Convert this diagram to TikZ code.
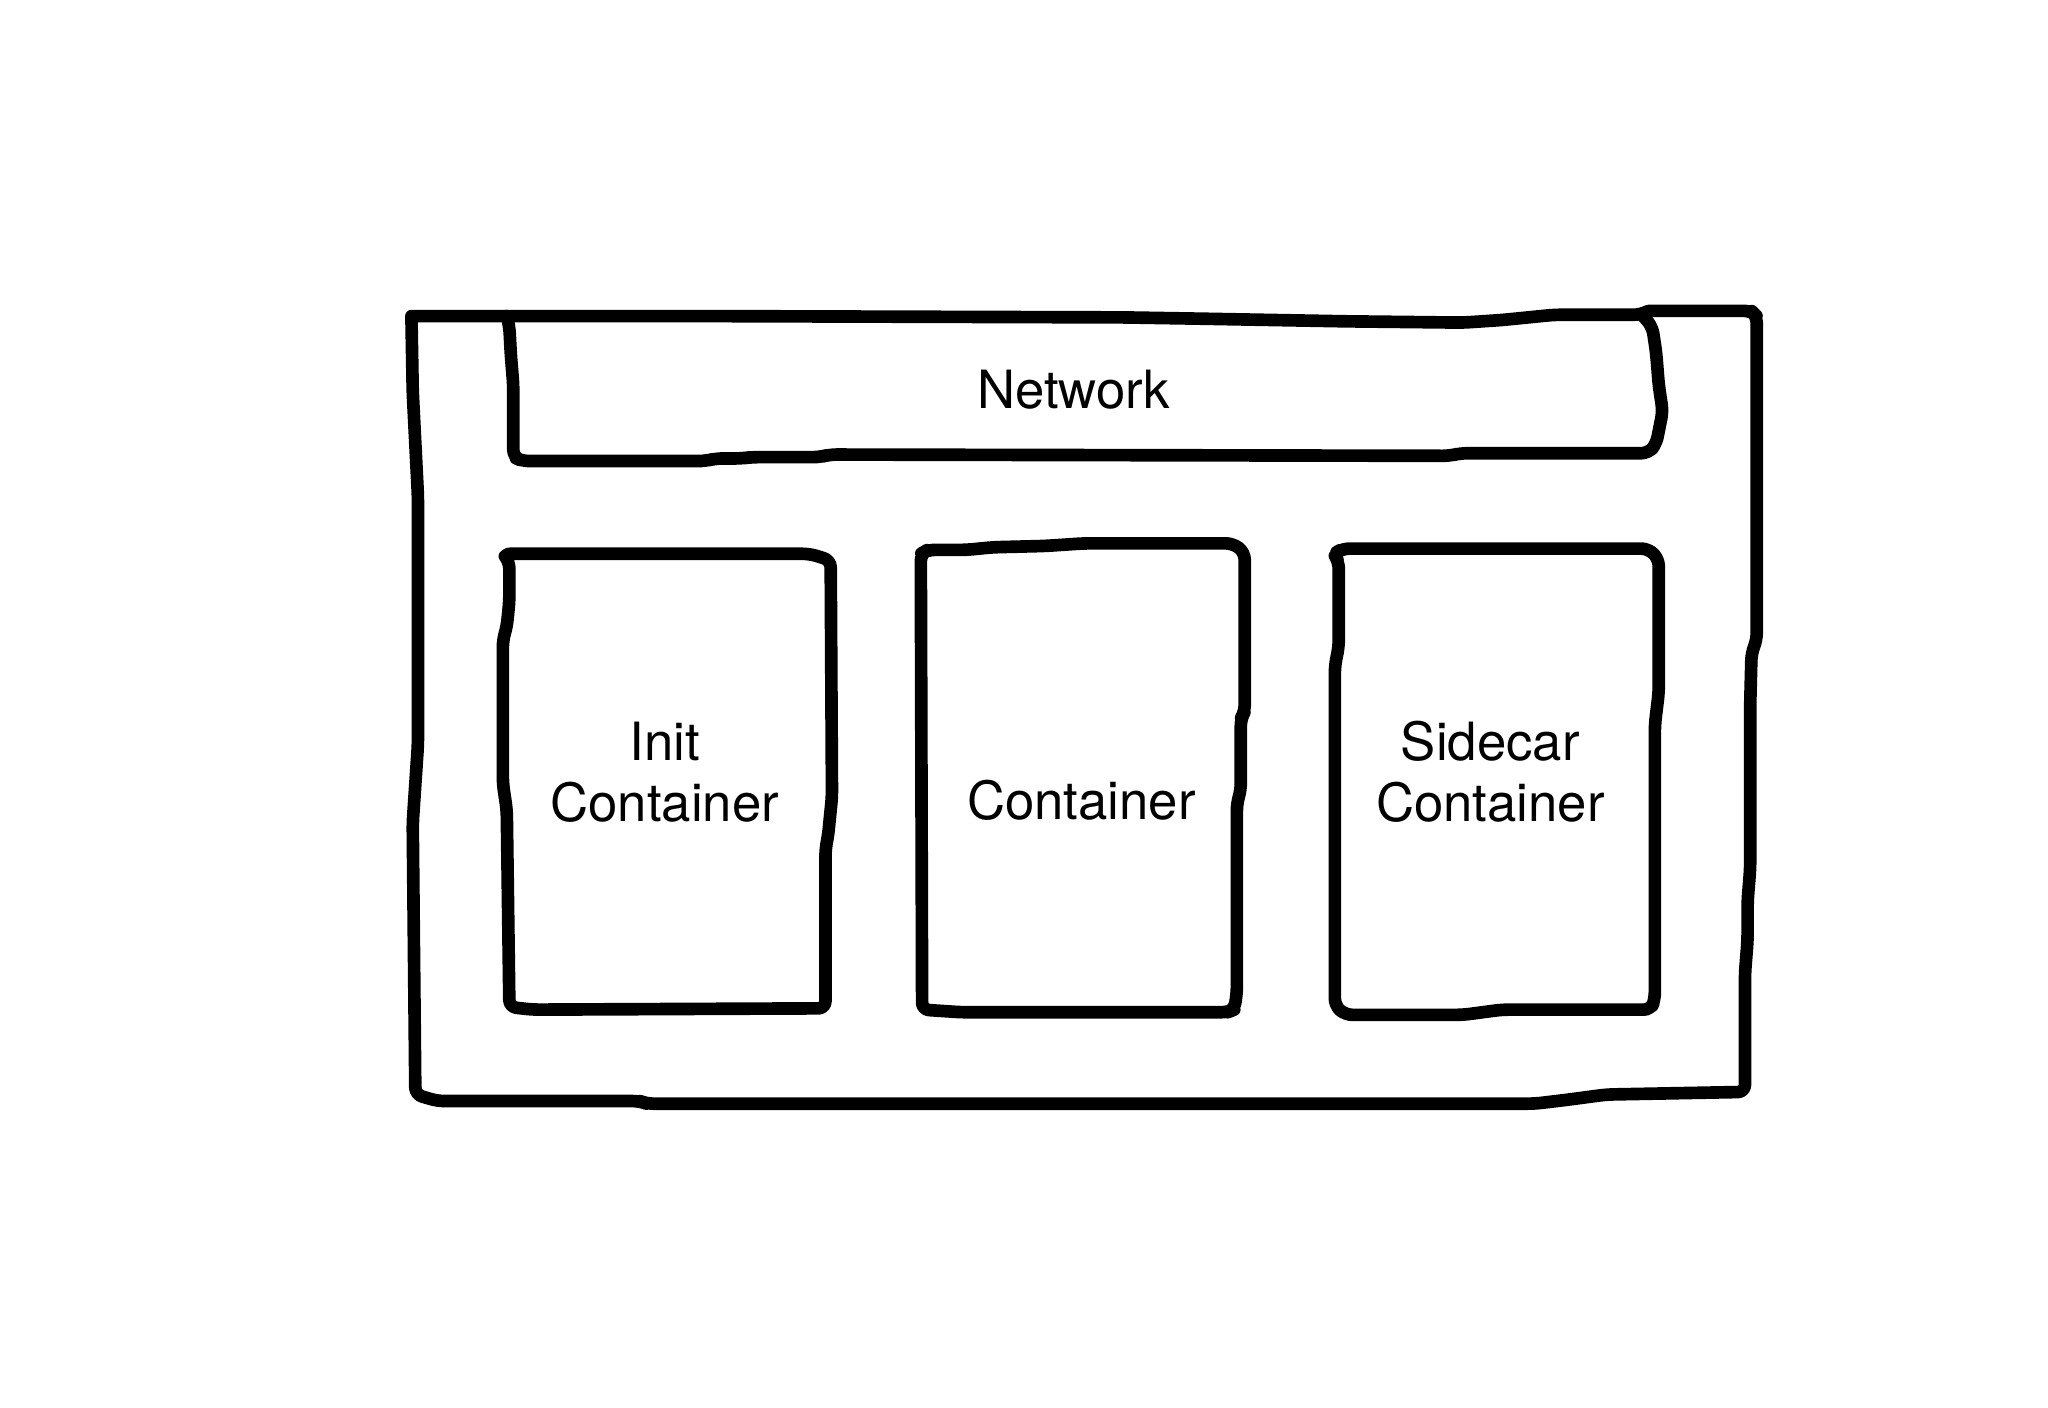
\documentclass[tikz,border=0pt]{standalone}
\usepackage{fontspec}
\setmainfont{TeX Gyre Heros}
\begin{document}
\begin{tikzpicture}[x=0.013061cm,y=-0.013061cm,
  sketch/.style={draw=black,line width=3.6pt,line join=round,line cap=round,rounded corners=2pt},
  lbl/.style={font=\fontsize{15}{17.4}\selectfont,align=center,text=black,inner sep=0pt}]
\useasboundingbox[fill=white] (0,0) rectangle (1568,1078);
% outer pod box
\draw[sketch] (315,242) -- (388,242) -- (540,242) -- (860,243) -- (920,244) -- (1030,246) -- (1120,247) -- (1150,245) -- (1190,241) -- (1256,241)
  .. controls (1262,238) .. (1272,238) -- (1341,238) -- (1345,242) -- (1345,490) -- (1341,500) -- (1340,540) -- (1340,665) -- (1338,690) -- (1338,720) -- (1336,745) -- (1336,836)
  -- (1230,838) -- (1200,842) -- (1175,845) -- (495,845) -- (490,843) -- (335,843) -- (318,838) -- (316,630) -- (318,600) -- (320,570) -- (320,380) -- (318,340) -- (316,300) -- (315,242);
% network box
\draw[sketch] (388,242) -- (390,250) -- (391,270) -- (393,295) -- (393,350) -- (400,353) -- (540,353) -- (548,351) -- (568,351) -- (575,350) -- (628,350) -- (635,348) -- (1110,349) -- (1118,347) -- (1262,347)
  -- (1268,340) -- (1273,315) -- (1270,295) -- (1268,270) -- (1265,250) -- (1258,242);
% init container
\draw[sketch] (385,424) -- (620,424) -- (636,429) -- (637,610) -- (634,640) -- (632,650) -- (632,772) -- (408,773) -- (390,771) -- (388,620) -- (385,600) -- (385,490) -- (388,480) -- (390,460) -- (390,430) -- cycle;
% container
\draw[sketch] (705,424) -- (710,421) -- (740,421) -- (760,419) -- (800,418) -- (830,416) -- (944,416) -- (953,423) -- (953,545) -- (950,550) -- (950,605) -- (947,615) -- (947,760) -- (945,773) -- (940,775) -- (736,775) -- (706,773) -- cycle;
% sidecar container
\draw[sketch] (1028,420) -- (1262,420) -- (1270,428) -- (1270,530) -- (1267,555) -- (1267,765) -- (1264,773) -- (1150,773) -- (1120,777) -- (1030,777) -- (1022,770) -- (1022,510) -- (1025,495) -- (1025,430) -- (1021,424) -- cycle;
\node[lbl] (net) at (822,298) {Network};
\node[lbl] (init) at (509,591) {Init\\Container};
\node[lbl] (main) at (828,613) {Container};
\node[lbl] (side) at (1141,591) {Sidecar\\Container};
\end{tikzpicture}
\end{document}
